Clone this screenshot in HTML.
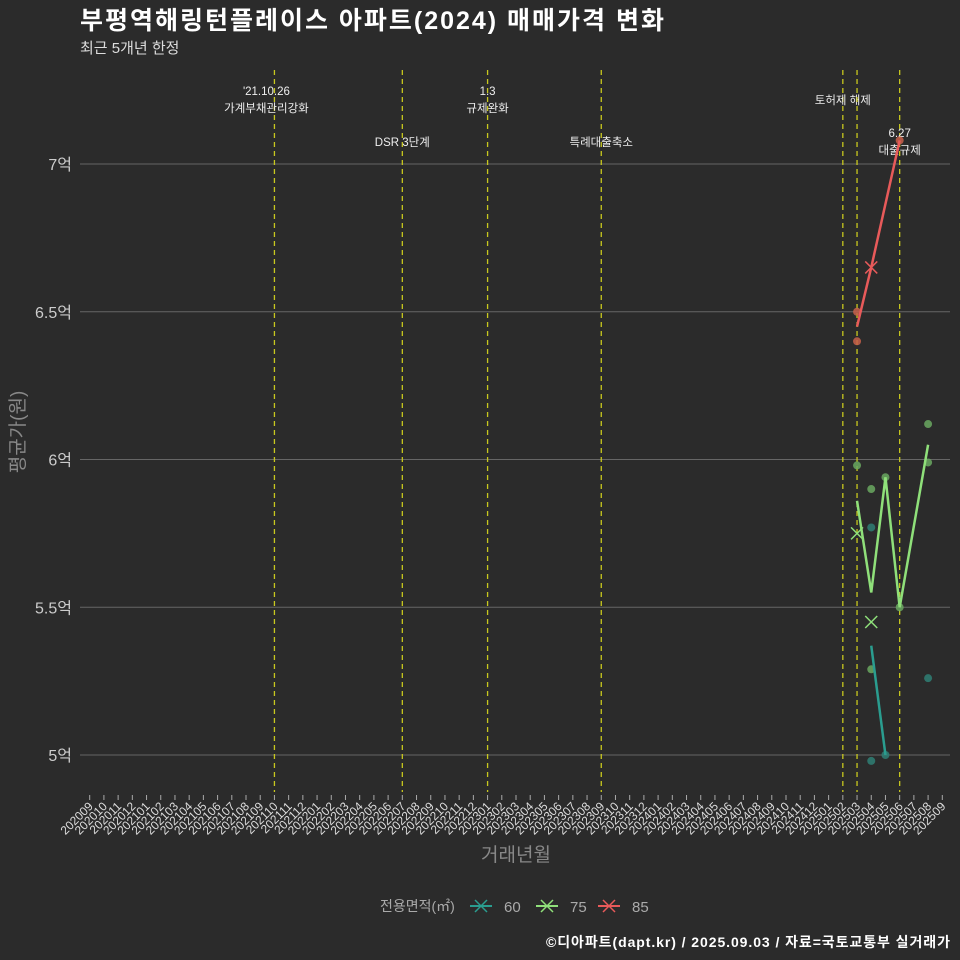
<!DOCTYPE html>
<html><head><meta charset="utf-8"><style>
html,body{margin:0;padding:0;background:#2b2b2b;}
svg{display:block;font-family:"Liberation Sans","Noto Sans CJK KR",sans-serif;}
</style></head><body>
<svg id="c" width="960" height="960">
<rect width="960" height="960" fill="#2b2b2b"/>
<text x="80" y="29" fill="#fff" font-size="25" font-weight="bold" textLength="584">부평역해링턴플레이스 아파트(2024) 매매가격 변화</text>
<text x="80" y="53" fill="#ddd" font-size="15">최근 5개년 한정</text>
<text transform="translate(24,432) rotate(-90)" text-anchor="middle" fill="#888" font-size="19">평균가(원)</text>
<text x="516" y="861" text-anchor="middle" fill="#888" font-size="19">거래년월</text>
<text x="950" y="947" text-anchor="end" fill="#fff" font-size="14" font-weight="bold" textLength="404">©디아파트(dapt.kr) / 2025.09.03 / 자료=국토교통부 실거래가</text>
<g id="plot"></g>
<g id="legend"></g>
</svg>
<script>
const months = [];
for (let y=2020,m=9; !(y===2025&&m===10); ) { months.push(y+String(m).padStart(2,'0')); m++; if(m>12){m=1;y++;} }
const yTicks = [5,5.5,6,6.5,7];
const yTickLabels = ['5억','5.5억','6억','6.5억','7억'];
const eventMonths = ['202110','202207','202301','202309','202502','202503','202506'];
const eventLabels = [["'21.10.26","가계부채관리강화"],["DSR 3단계"],["1.3","규제완화"],["특례대출축소"],["토허제 해제"],[""],["6.27","대출규제"]];
const eventLabelY = [95,146,95,146,104,0,137];
const eventLabelDx = [-8,0,0,0,0,0,0];
const series = ['60','75','85'];
const seriesColors = ['#2a9d8f','#8fe07a','#e85a5a'];
const dotColors = ['#2f7f74','#6aa860','#c8604a'];
const dotMonths60 = ['202504','202504','202505','202508'];
const dotVals60 = [5.77,4.98,5.0,5.26];
const dotMonths75 = ['202503','202504','202504','202505','202506','202508','202508'];
const dotVals75 = [5.98,5.90,5.29,5.94,5.5,6.12,5.99];
const dotMonths85 = ['202503','202503','202506'];
const dotVals85 = [6.5,6.4,7.08];
const lineMonths60 = ['202504','202505'];
const lineVals60 = [5.37,5.0];
const lineMonths75 = ['202503','202504','202505','202506','202508'];
const lineVals75 = [5.86,5.55,5.94,5.5,6.05];
const lineMonths85 = ['202503','202504','202506'];
const lineVals85 = [6.45,6.65,7.08];
const xMarkMonths60 = [];
const xMarkVals60 = [];
const xMarkMonths75 = ['202503','202504'];
const xMarkVals75 = [5.75,5.45];
const xMarkMonths85 = ['202504'];
const xMarkVals85 = [6.65];

const NS='http://www.w3.org/2000/svg';
const X = m => 89.7 + months.indexOf(m)*14.21;
const Y = v => 755 - (v-5)*295.5;
const plot = document.getElementById('plot');
function mk(tag, attrs, parent){const e=document.createElementNS(NS,tag);for(const k in attrs)e.setAttribute(k,attrs[k]);(parent||plot).appendChild(e);return e;}

yTicks.forEach((v,i)=>{
  const l=mk('line',{x1:80,x2:950,y1:Y(v),y2:Y(v),stroke:'#666','stroke-width':1});
  
  
  const t=mk('text',{x:72,y:Y(v)+6,'text-anchor':'end',fill:'#ccc','font-size':16});
  t.textContent=yTickLabels[i];
  
  
});
months.forEach(m=>{
  const x=X(m);
  const tk=mk('line',{x1:x,x2:x,y1:795,y2:800,stroke:'#aaa','stroke-width':1});
  
  
  const t=mk('text',{x:x+4,y:807,'text-anchor':'end',fill:'#ddd','font-size':12,transform:`rotate(-45 ${x+4} 807)`});
  t.textContent=m;
  
  
});
eventMonths.forEach((m,i)=>{
  const x=X(m);
  const l=mk('line',{x1:x,x2:x,y1:70,y2:792,stroke:'#c8c81e','stroke-width':1.3,'stroke-dasharray':'5,4'});
  
  
  eventLabels[i].forEach((s,j)=>{
    if(!s) return;
    const t=mk('text',{x:x+eventLabelDx[i],y:eventLabelY[i]+j*17,'text-anchor':'middle',fill:'#eee','font-size':11.5});
    t.textContent=s;
    
    
  });
});
const dots=[[dotMonths60,dotVals60],[dotMonths75,dotVals75],[dotMonths85,dotVals85]];
const lines=[[lineMonths60,lineVals60],[lineMonths75,lineVals75],[lineMonths85,lineVals85]];
const xm=[[xMarkMonths60,xMarkVals60],[xMarkMonths75,xMarkVals75],[xMarkMonths85,xMarkVals85]];
series.forEach((s,i)=>{
  dots[i][0].forEach((m,j)=>{
    const c=mk('circle',{cx:X(m),cy:Y(dots[i][1][j]),r:4,fill:dotColors[i],opacity:0.85});
    
    
  });
});
series.forEach((s,i)=>{
  const p=mk('polyline',{points:lines[i][0].map((m,j)=>X(m)+','+Y(lines[i][1][j])).join(' '),fill:'none',stroke:seriesColors[i],'stroke-width':2.5});
  
  
  xm[i][0].forEach((m,j)=>{
    const x=X(m),y=Y(xm[i][1][j]);
    const g=mk('path',{d:`M${x-6},${y-6}L${x+6},${y+6}M${x-6},${y+6}L${x+6},${y-6}`,stroke:seriesColors[i],'stroke-width':1.5});
    
    
  });
});
const lg=document.getElementById('legend');
const lt=mk('text',{x:380,y:911,fill:'#aaa','font-size':14},lg);
lt.textContent='전용면적(㎡)';


const lx=[470,536,598];
series.forEach((s,i)=>{
  const x=lx[i];
  const g=mk('g',{},lg);
  
  
  mk('line',{x1:x,x2:x+22,y1:906,y2:906,stroke:seriesColors[i],'stroke-width':2},g);
  mk('path',{d:`M${x+5},${900}L${x+17},${912}M${x+5},${912}L${x+17},${900}`,stroke:seriesColors[i],'stroke-width':1.5},g);
  const t=mk('text',{x:x+34,y:912,fill:'#aaa','font-size':15},g);
  t.textContent=s;
});
</script>
</body></html>
